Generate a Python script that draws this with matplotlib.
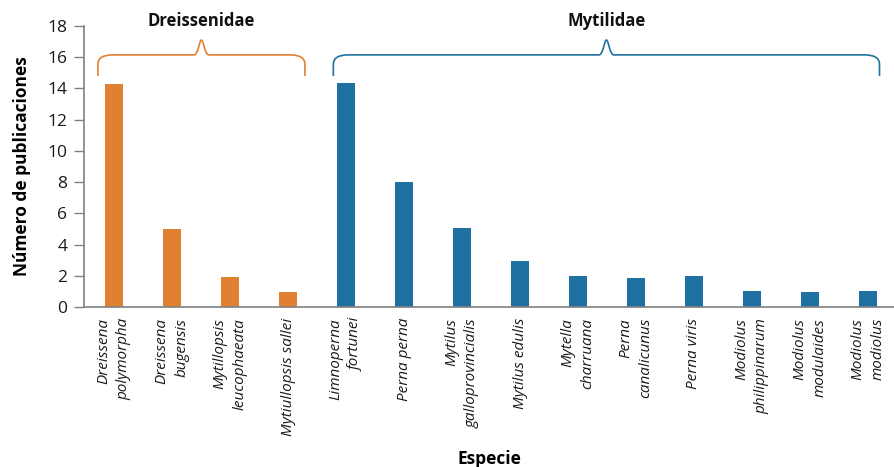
import matplotlib
matplotlib.use("Agg")
import matplotlib.pyplot as plt
from matplotlib.path import Path
from matplotlib.patches import PathPatch

plt.rcParams['font.family'] = ['Open Sans', 'DejaVu Sans']

species = ["Dreissena\npolymorpha", "Dreissena\nbugensis", "Mytillopsis\nleucophaeata",
           "Mytiullopsis sallei", "Limnoperna\nfortunei", "Perna perna",
           "Mytilus\ngalloprovincialis", "Mytilus edulis", "Mytella\ncharruana",
           "Perna\ncanalicunus", "Perna viris", "Modiolus\nphilippinarum",
           "Modiolus\nmodulaides", "Modiolus\nmodiolus"]
values = [14.3, 5.0, 1.92, 0.96, 14.36, 8.0, 5.06, 2.95, 1.99, 1.86, 2.0, 1.03, 0.96, 1.03]
families = ["Dreissenidae"] * 4 + ["Mytilidae"] * 10
family_names = ["Dreissenidae", "Mytilidae"]
family_colors = {"Dreissenidae": "#E08031", "Mytilidae": "#1F71A1"}
yticks = [0, 2, 4, 6, 8, 10, 12, 14, 16, 18]

fig = plt.figure(figsize=(8.94, 4.67), dpi=100)
ax = fig.add_axes([0.094, 0.3426, 0.906, 0.6017])

x = list(range(len(species)))
ax.bar(x, values, width=0.31, color=[family_colors[f] for f in families], zorder=2)

ax.set_xlim(-0.52, 13.45)
ax.set_ylim(0, 18)
ax.set_yticks(yticks)
ax.set_xticks(x)
ax.set_xticklabels(species, rotation=90, fontstyle='italic', fontsize=11,
                   multialignment='right', color='#1a1a1a', linespacing=1.45)
ax.tick_params(axis='x', length=0, pad=8)
ax.tick_params(axis='y', length=7, width=1, color='#808080', labelsize=12.5,
               pad=5, labelcolor='#1a1a1a')
for s in ['top', 'right']:
    ax.spines[s].set_visible(False)
for s in ['left', 'bottom']:
    ax.spines[s].set_color('#808080')
    ax.spines[s].set_linewidth(1.2)

ax.set_ylabel("Número de publicaciones", fontsize=12.5, fontweight='bold', labelpad=12)
ax.set_xlabel("Especie", fontsize=12.5, fontweight='bold', labelpad=10)


def brace(ax, x0, x1, y0, y1, ypk, color):
    xm = (x0 + x1) / 2
    r = 0.25
    rv = (y1 - y0) * 0.45
    w = 0.13
    verts = [
        (x0, y0), (x0, y1 - rv), (x0, y1), (x0 + r, y1),
        (xm - w, y1), (xm - w * 0.4, y1), (xm - w * 0.3, ypk), (xm, ypk),
        (xm + w * 0.3, ypk), (xm + w * 0.4, y1), (xm + w, y1),
        (x1 - r, y1), (x1, y1), (x1, y1 - rv), (x1, y0),
    ]
    codes = [Path.MOVETO, Path.LINETO, Path.CURVE3, Path.CURVE3,
             Path.LINETO, Path.CURVE4, Path.CURVE4, Path.CURVE4,
             Path.CURVE4, Path.CURVE4, Path.CURVE4,
             Path.LINETO, Path.CURVE3, Path.CURVE3, Path.LINETO]
    p = PathPatch(Path(verts, codes), fill=False, edgecolor=color, lw=1.2,
                  clip_on=False, zorder=3)
    ax.add_patch(p)


brace_spans = {"Dreissenidae": (-0.28, 3.29), "Mytilidae": (3.78, 13.2)}
for fam in family_names:
    x0, x1 = brace_spans[fam]
    brace(ax, x0, x1, 14.8, 16.15, 17.1, family_colors[fam])
    ax.text((x0 + x1) / 2, 18.35, fam, ha='center', va='center', fontsize=12,
            fontweight='bold', color='#111111', clip_on=False)

fig.savefig("out.png", dpi=100)
